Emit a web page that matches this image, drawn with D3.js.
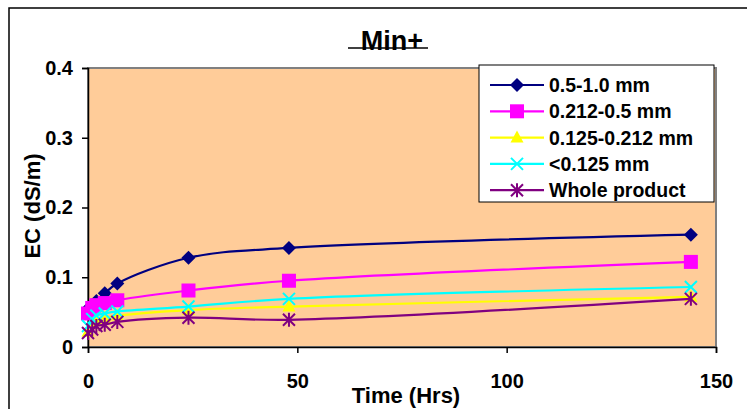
<!DOCTYPE html>
<html>
<head>
<meta charset="utf-8">
<script src="https://cdn.jsdelivr.net/npm/d3@7"></script>
<style>
  body { margin: 0; background: #fff; }
  text { font-family: "Liberation Sans", Arial, sans-serif; font-weight: bold; }
</style>
</head>
<body>
<div id="chart"></div>
<script>
// hours of the readings
const hours = [0, 1, 2, 4, 7, 24, 48, 144];
const seriesNames = ["0.5-1.0 mm", "0.212-0.5 mm", "0.125-0.212 mm", "<0.125 mm", "Whole product"];
const coarse = [0.055, 0.060, 0.066, 0.077, 0.091, 0.128, 0.142, 0.161];
const medium = [0.048, 0.056, 0.060, 0.063, 0.067, 0.081, 0.095, 0.122];
const fine = [0.022, 0.033, 0.038, 0.042, 0.045, 0.053, 0.058, 0.072];
const finest = [0.030, 0.040, 0.045, 0.048, 0.051, 0.058, 0.069, 0.086];
const whole = [0.020, 0.025, 0.030, 0.032, 0.036, 0.042, 0.039, 0.069];
const xTicks = [0, 50, 100, 150];
const yTicks = [0, 0.1, 0.2, 0.3, 0.4];

const seriesValues = [coarse, medium, fine, finest, whole];
const colors = ["#000080", "#FF00FF", "#FFFF00", "#00FFFF", "#800080"];
const markers = ["diamond", "square", "triangle", "cross", "star"];

const W = 747, H = 409;
const plotLeft = 88, plotRight = 716, plotTop = 68, plotBottom = 347;

const svg = d3.select("#chart").append("svg")
  .attr("width", W)
  .attr("height", H);

// outer chart frame (cut off at right and bottom)
svg.append("rect")
  .attr("x", 9).attr("y", 8)
  .attr("width", 760).attr("height", 420)
  .attr("fill", "#fff")
  .attr("stroke", "#000")
  .attr("stroke-width", 1.5);

const x = d3.scaleLinear().domain([0, 150]).range([plotLeft, plotRight]);
const y = d3.scaleLinear().domain([0, 0.4]).range([plotBottom, plotTop]);

// plot area
svg.append("rect")
  .attr("x", plotLeft).attr("y", plotTop)
  .attr("width", plotRight - plotLeft).attr("height", plotBottom - plotTop)
  .attr("fill", "#FFCC99")
  .attr("stroke", "#808080")
  .attr("stroke-width", 2);

// axes
const yAxis = svg.append("g")
  .attr("transform", `translate(${plotLeft},0)`)
  .call(d3.axisLeft(y).tickValues(yTicks).tickSize(6).tickPadding(9)
    .tickFormat(d => d === 0 ? "0" : d3.format(".1f")(d)));
const xAxis = svg.append("g")
  .attr("transform", `translate(0,${plotBottom})`)
  .call(d3.axisBottom(x).tickValues(xTicks).tickSize(6).tickPadding(21));

[yAxis, xAxis].forEach(g => {
  g.select(".domain").attr("stroke", "#000").attr("stroke-width", 1.5);
  g.selectAll(".tick line").attr("stroke", "#000").attr("stroke-width", 1.5);
  g.selectAll(".tick text")
    .attr("font-size", "20px")
    .attr("font-family", "Liberation Sans, Arial, sans-serif")
    .attr("font-weight", "bold")
    .attr("fill", "#000");
});

// axis titles
svg.append("text")
  .attr("x", 406).attr("y", 403)
  .attr("text-anchor", "middle")
  .attr("font-size", "22px")
  .text("Time (Hrs)");

svg.append("text")
  .attr("transform", "translate(40,206) rotate(-90)")
  .attr("text-anchor", "middle")
  .attr("font-size", "22px")
  .text("EC (dS/m)");

// title with the line through its foot
svg.append("text")
  .attr("x", 392).attr("y", 50)
  .attr("text-anchor", "middle")
  .attr("font-size", "27px")
  .text("Min+");
svg.append("line")
  .attr("x1", 348).attr("x2", 428)
  .attr("y1", 48).attr("y2", 48)
  .attr("stroke", "#000")
  .attr("stroke-width", 1.5);

function drawMarker(g, kind, cx, cy, color) {
  if (kind === "diamond") {
    g.append("path")
      .attr("d", `M${cx},${cy - 7}L${cx + 7},${cy}L${cx},${cy + 7}L${cx - 7},${cy}Z`)
      .attr("fill", color);
  } else if (kind === "square") {
    g.append("rect")
      .attr("x", cx - 7).attr("y", cy - 7)
      .attr("width", 14).attr("height", 14)
      .attr("fill", color);
  } else if (kind === "triangle") {
    g.append("path")
      .attr("d", `M${cx},${cy - 7}L${cx + 6.5},${cy + 5}L${cx - 6.5},${cy + 5}Z`)
      .attr("fill", color);
  } else if (kind === "cross") {
    g.append("path")
      .attr("d", `M${cx - 6},${cy - 6}L${cx + 6},${cy + 6}M${cx - 6},${cy + 6}L${cx + 6},${cy - 6}`)
      .attr("stroke", color)
      .attr("stroke-width", 2);
  } else {
    g.append("path")
      .attr("d", `M${cx - 6},${cy - 6}L${cx + 6},${cy + 6}M${cx - 6},${cy + 6}L${cx + 6},${cy - 6}M${cx},${cy - 7}L${cx},${cy + 7}`)
      .attr("stroke", color)
      .attr("stroke-width", 2);
  }
}

const line = d3.line()
  .x(d => x(d[0]))
  .y(d => y(d[1]))
  .curve(d3.curveCatmullRom.alpha(0.5));

// draw series in order (first one below)
seriesValues.forEach((vals, i) => {
  const pts = hours.map((h, j) => [h, vals[j]]);
  const g = svg.append("g");
  g.append("path")
    .attr("d", line(pts))
    .attr("fill", "none")
    .attr("stroke", colors[i])
    .attr("stroke-width", 2.2);
  pts.forEach(p => drawMarker(g, markers[i], x(p[0]), y(p[1]), colors[i]));
});

// legend
const lg = svg.append("g");
lg.append("rect")
  .attr("x", 479).attr("y", 65)
  .attr("width", 235).attr("height", 137)
  .attr("fill", "#fff")
  .attr("stroke", "#000")
  .attr("stroke-width", 1);

seriesNames.forEach((name, i) => {
  const cy = 85 + i * 26.3;
  lg.append("line")
    .attr("x1", 490).attr("x2", 544)
    .attr("y1", cy).attr("y2", cy)
    .attr("stroke", colors[i])
    .attr("stroke-width", 2.2);
  drawMarker(lg, markers[i], 517, cy, colors[i]);
  lg.append("text")
    .attr("x", 549).attr("y", cy)
    .attr("dy", "0.36em")
    .attr("font-size", "19.5px")
    .text(name);
});
</script>
</body>
</html>
